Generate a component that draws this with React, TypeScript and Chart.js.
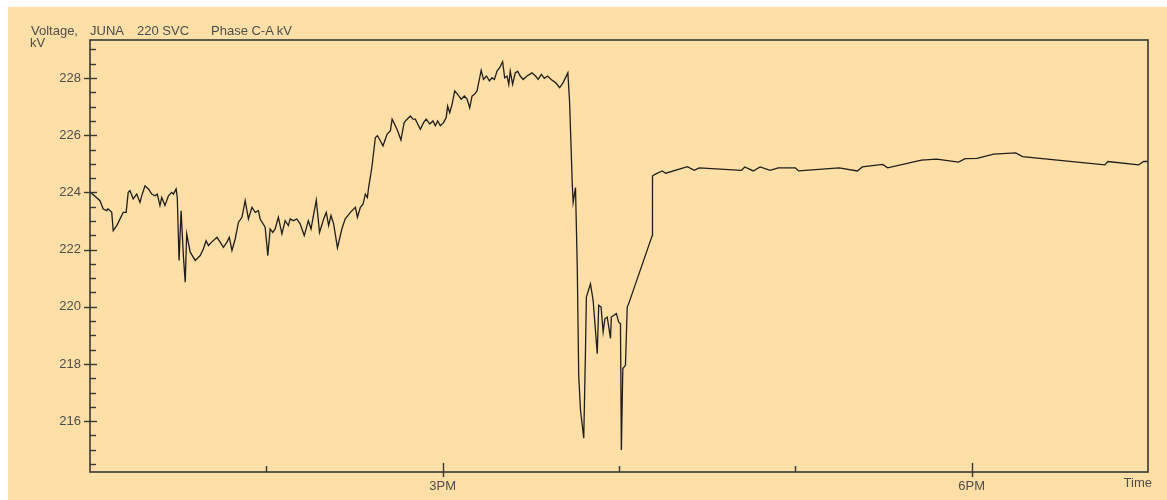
import React, { useEffect, useRef } from 'react';
import { Chart, registerables } from 'chart.js';

Chart.register(...registerables);

// minutes after 1 PM
const minutes = [
  0, 3.4, 4.5, 5.7, 6.1, 7.4, 7.9, 9.1, 11.3, 12.3,
  13.0, 13.6, 14.7, 15.9, 17.0, 17.6, 18.7, 19.9, 21.0, 22.1,
  22.9, 23.8, 24.4, 25.5, 26.7, 27.8, 28.4, 29.3, 29.7, 30.3,
  31.0, 31.8, 32.4, 32.9, 34.1, 35.8, 37.5, 38.6, 39.5, 40.3,
  41.4, 43.2, 44.3, 45.4, 46.6, 47.4, 48.3, 49.4, 50.5, 51.7,
  52.8, 53.9, 55.1, 56.2, 57.3, 57.9, 59.6, 60.5, 61.3, 62.2,
  63.0, 64.1, 65.3, 66.4, 67.5, 68.1, 69.2, 70.4, 71.5, 72.9,
  74.3, 75.2, 77.0, 78.1, 79.5, 80.4, 81.2, 82.0, 82.9, 84.2,
  85.7, 86.8, 88.6, 90.3, 91.0, 92.0, 92.9, 93.7, 94.4, 94.8,
  95.9, 97.1, 97.8, 98.5, 99.7, 101.1, 102.2, 102.8, 103.9, 104.7,
  105.8, 106.9, 107.9, 109.0, 109.9, 110.7, 111.5, 112.4, 113.5, 114.4,
  115.6, 116.7, 117.5, 118.3, 119.2, 120.3, 121.2, 121.7, 122.4, 123.2,
  124.1, 125.1, 126.3, 127.4, 128.3, 129.2, 130.0, 130.8, 131.7, 133.1,
  133.9, 134.9, 135.9, 136.8, 137.6, 138.5, 139.4, 140.4, 141.1, 141.9,
  142.5, 143.0, 143.8, 144.7, 145.5, 146.4, 147.4, 148.7, 150.4, 151.6,
  152.5, 153.6, 154.6, 155.7, 156.9, 158.4, 159.8, 161.0, 162.6, 163.2,
  164.1, 164.4, 165.2, 165.8, 166.3, 166.9, 168.0, 168.6, 168.9, 170.3,
  171.2, 172.6, 173.1, 173.9, 174.6, 175.2, 176.0, 177.1, 177.4, 179.1,
  179.9, 180.5, 180.8, 181.3, 182.2, 182.8, 183.3, 191.3, 191.4, 192.4,
  194.7, 195.9, 203.3, 205.6, 207.3, 221.6, 222.8, 225.7, 228.0, 231.4,
  234.2, 240.0, 241.1, 254.9, 261.1, 262.8, 269.7, 271.4, 282.9, 288.1,
  295.5, 297.8, 301.8, 307.5, 315.0, 317.3, 345.3, 346.4, 356.8, 358.5, 360,
];

// Phase C-A voltage, kV
const kilovolts = [
  224.02, 223.71, 223.42, 223.36, 223.43, 223.30, 222.66, 222.84, 223.30, 223.30,
  224.00, 224.06, 223.77, 223.94, 223.65, 223.88, 224.23, 224.12, 223.94, 223.88,
  223.94, 223.54, 223.82, 223.54, 223.88, 224.00, 223.94, 224.12, 223.82, 221.62,
  223.36, 221.73, 220.86, 222.55, 221.91, 221.62, 221.79, 222.03, 222.31, 222.14,
  222.26, 222.43, 222.26, 222.08, 222.26, 222.43, 221.97, 222.37, 222.95, 223.13,
  223.71, 223.07, 223.48, 223.30, 223.36, 223.07, 222.78, 221.79, 222.72, 222.60,
  222.72, 223.13, 222.55, 223.01, 222.84, 223.07, 223.01, 223.07, 222.90, 222.49,
  223.01, 222.72, 223.73, 222.60, 223.07, 223.30, 222.84, 223.19, 222.90, 222.06,
  222.72, 223.07, 223.30, 223.48, 223.13, 223.48, 223.59, 223.94, 223.82, 224.17,
  224.87, 225.92, 225.98, 225.86, 225.63, 226.04, 226.15, 226.56, 226.33, 226.15,
  225.83, 226.44, 226.56, 226.67, 226.56, 226.56, 226.39, 226.21, 226.44, 226.56,
  226.39, 226.50, 226.33, 226.50, 226.33, 226.44, 226.62, 227.02, 226.79, 227.08,
  227.55, 227.43, 227.26, 227.37, 227.26, 226.96, 227.37, 227.43, 227.55, 228.27,
  227.95, 228.07, 227.90, 228.01, 227.95, 228.24, 228.36, 228.57, 228.01, 228.07,
  227.78, 228.24, 227.78, 228.18, 228.24, 228.07, 227.95, 228.07, 228.18, 228.07,
  227.95, 228.13, 227.99, 228.07, 227.95, 227.84, 227.66, 227.84, 228.18, 227.14,
  224.29, 223.65, 224.17, 221.38, 217.55, 216.38, 215.40, 218.48, 220.34, 220.80,
  220.22, 218.36, 220.05, 219.99, 219.12, 219.58, 219.64, 218.89, 219.64, 219.76,
  219.46, 219.41, 214.99, 217.84, 217.95, 219.99, 220.11, 222.49, 224.58, 224.64,
  224.75, 224.67, 224.90, 224.77, 224.86, 224.77, 224.89, 224.75, 224.89, 224.77,
  224.86, 224.86, 224.75, 224.86, 224.75, 224.89, 224.98, 224.86, 225.13, 225.16,
  225.06, 225.18, 225.19, 225.34, 225.38, 225.25, 224.96, 225.08, 224.96, 225.08, 225.08,
];

const xMin = 0;
const xMax = 360;
const xTickStep = 60;
const xTickLabels: Record<number, string> = { 120: '3PM', 300: '6PM' };
const xEndLabel = 'Time';

const yMin = 214.22;
const yMax = 229.33;
const yMajorStep = 2;
const yMinorStep = 0.5;

const titleParts = [
  { text: 'Voltage,', left: 31, top: 24 },
  { text: 'kV', left: 30, top: 35.5 },
  { text: 'JUNA', left: 90, top: 24 },
  { text: '220 SVC', left: 137, top: 24 },
  { text: 'Phase C-A kV', left: 211, top: 24 },
];

const BG = '#FEDFA7';
const TEXT = '#4d4d4d';
const AXIS = '#383838';
const FONT = '"Liberation Sans", Arial, Helvetica, sans-serif';

const frameTicks = {
  id: 'frameTicks',
  afterDraw(chart: any) {
    const { ctx, chartArea } = chart;
    const xs = chart.scales.x;
    const ys = chart.scales.y;
    ctx.save();
    ctx.strokeStyle = AXIS;
    ctx.lineWidth = 1.6;
    ctx.strokeRect(chartArea.left, chartArea.top, chartArea.right - chartArea.left, chartArea.bottom - chartArea.top);
    ctx.lineWidth = 1.4;
    for (let v = Math.ceil(yMin / yMinorStep) * yMinorStep; v <= yMax + 1e-9; v += yMinorStep) {
      const py = Math.round(ys.getPixelForValue(v)) + 0.5;
      const major = Math.abs(v / yMajorStep - Math.round(v / yMajorStep)) < 1e-6;
      ctx.beginPath();
      if (major) {
        ctx.moveTo(chartArea.left - 6, py);
        ctx.lineTo(chartArea.left + 7, py);
      } else {
        ctx.moveTo(chartArea.left, py);
        ctx.lineTo(chartArea.left + 6, py);
      }
      ctx.stroke();
    }
    for (let t = xMin + xTickStep; t < xMax; t += xTickStep) {
      const px = Math.round(xs.getPixelForValue(t)) + 0.5;
      const major = xTickLabels[t] !== undefined;
      ctx.beginPath();
      if (major) {
        ctx.moveTo(px, chartArea.bottom - 9);
        ctx.lineTo(px, chartArea.bottom + 5);
      } else {
        ctx.moveTo(px, chartArea.bottom - 6);
        ctx.lineTo(px, chartArea.bottom);
      }
      ctx.stroke();
    }
    ctx.fillStyle = TEXT;
    ctx.font = `13px ${FONT}`;
    ctx.textAlign = 'right';
    ctx.textBaseline = 'middle';
    ctx.fillText(xEndLabel, chartArea.right + 4, chartArea.bottom + 11);
    ctx.restore();
  },
};

export default function App() {
  const canvasRef = useRef<HTMLCanvasElement | null>(null);

  useEffect(() => {
    if (!canvasRef.current) return;
    const points = minutes.map((m, i) => ({ x: m, y: kilovolts[i] }));
    const chart = new Chart(canvasRef.current, {
      type: 'line',
      data: {
        datasets: [
          {
            data: points,
            borderColor: '#1e1e1e',
            borderWidth: 1.3,
            pointRadius: 0,
            tension: 0,
            fill: false,
          },
        ],
      },
      options: {
        animation: false,
        responsive: false,
        events: [],
        layout: { padding: { left: 0, top: 33, right: 19, bottom: 0 } },
        plugins: { legend: { display: false }, tooltip: { enabled: false } },
        scales: {
          x: {
            type: 'linear',
            min: xMin,
            max: xMax,
            grid: { display: false, drawTicks: false },
            border: { display: false },
            ticks: {
              stepSize: xTickStep,
              autoSkip: false,
              maxRotation: 0,
              padding: 7,
              color: TEXT,
              font: { size: 13, family: FONT },
              callback: (v: any) => xTickLabels[Number(v)] ?? '',
            },
            afterFit: (s: any) => {
              s.height = 28;
            },
          },
          y: {
            type: 'linear',
            min: yMin,
            max: yMax,
            grid: { display: false, drawTicks: false },
            border: { display: false },
            ticks: {
              stepSize: yMajorStep,
              includeBounds: false,
              autoSkip: false,
              padding: 9,
              color: TEXT,
              font: { size: 13, family: FONT },
              callback: (v: any) => String(v),
            },
            afterFit: (s: any) => {
              s.width = 82;
            },
          },
        },
      },
      plugins: [frameTicks],
    });
    return () => chart.destroy();
  }, []);

  return (
    <div style={{ position: 'fixed', left: 0, top: 0, width: 1167, height: 500, background: '#ffffff' }}>
      <div style={{ position: 'absolute', left: 8, top: 7, width: 1159, height: 493, background: BG }} />
      <canvas
        ref={canvasRef}
        width={1159}
        height={493}
        style={{ position: 'absolute', left: 8, top: 7, width: 1159, height: 493 }}
      />
      {titleParts.map((p, i) => (
        <span
          key={i}
          style={{
            position: 'absolute',
            left: p.left,
            top: p.top,
            fontFamily: FONT,
            fontSize: 13,
            lineHeight: '13px',
            color: TEXT,
            whiteSpace: 'nowrap',
          }}
        >
          {p.text}
        </span>
      ))}
    </div>
  );
}
